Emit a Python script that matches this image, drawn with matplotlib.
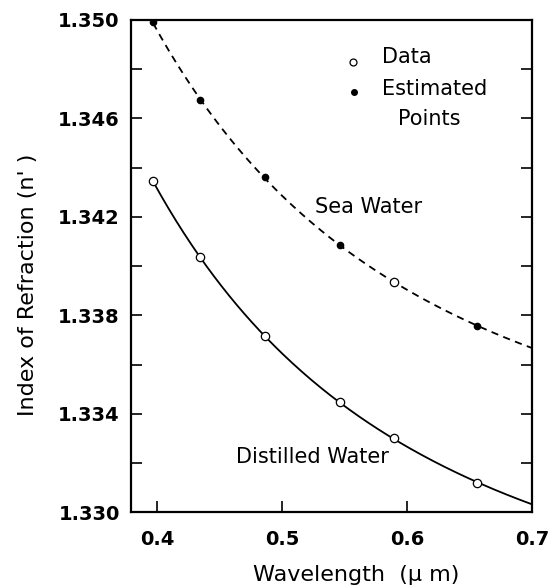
import numpy as np
import matplotlib
matplotlib.use("Agg")
import matplotlib.pyplot as plt

# wavelengths (um) and refractive index
wl_distilled = [0.3968, 0.4340, 0.4861, 0.5461, 0.5893, 0.6563]
n_distilled = [1.34345, 1.34037, 1.33715, 1.33447, 1.33300, 1.33119]

wl_sea_est = [0.3968, 0.4340, 0.4861, 0.5461, 0.6563]
n_sea_est = [1.34990, 1.34675, 1.34362, 1.34085, 1.33756]
wl_sea_data = [0.5893]
n_sea_data = [1.33936]

x_ticks = [0.4, 0.5, 0.6, 0.7]
y_ticks = [1.330, 1.334, 1.338, 1.342, 1.346, 1.350]


# Cauchy-type fit n = A + B/l^2 + C/l^4, used for the smooth curves
def cauchy_curve(wl, n, x_end=0.7):
    wl = np.asarray(wl)
    coef = np.polyfit(1.0 / wl**2, n, 2)
    xs = np.linspace(wl.min(), x_end, 200)
    return xs, np.polyval(coef, 1.0 / xs**2)


fig = plt.figure(figsize=(5.52, 5.88), dpi=100)
ax = fig.add_axes([0.237, 0.129, 0.727, 0.837])

xs, ys = cauchy_curve(wl_distilled, n_distilled)
ax.plot(xs, ys, color='black', linewidth=1.3)
ax.plot(wl_distilled, n_distilled, linestyle='none', marker='o', markersize=6,
        markerfacecolor='white', markeredgecolor='black', markeredgewidth=0.9)

wl_sea = wl_sea_est + wl_sea_data
n_sea = n_sea_est + n_sea_data
xs, ys = cauchy_curve(wl_sea, n_sea)
ax.plot(xs, ys, color='black', linewidth=1.3, linestyle=(0, (4, 3)))
ax.plot(wl_sea_est, n_sea_est, linestyle='none', marker='o', markersize=4.5,
        color='black')
ax.plot(wl_sea_data, n_sea_data, linestyle='none', marker='o', markersize=6,
        markerfacecolor='white', markeredgecolor='black', markeredgewidth=0.9)

ax.set_xlim(0.379, 0.7)
ax.set_ylim(1.330, 1.350)
ax.set_xticks(x_ticks)
ax.set_xticklabels([f"{v:.1f}" for v in x_ticks])
ax.set_yticks(y_ticks)
ax.set_yticklabels([f"{v:.3f}" for v in y_ticks])
ax.set_yticks(np.arange(1.332, 1.350, 0.004), minor=True)
ax.tick_params(axis='both', which='both', direction='in', length=8, width=1.2,
               labelsize=14)
ax.tick_params(axis='y', which='both', right=True, pad=8)
ax.tick_params(axis='x', pad=13)
for lab in ax.get_xticklabels() + ax.get_yticklabels():
    lab.set_fontweight('bold')
for sp in ax.spines.values():
    sp.set_linewidth(1.6)

ax.set_xlabel(u"Wavelength  (\u03bc m)", fontsize=16)
ax.set_ylabel("Index of Refraction (n' )", fontsize=16)
ax.xaxis.set_label_coords(0.561, -0.108)
ax.yaxis.set_label_coords(-0.232, 0.461)

ax.text(0.459, 0.608, "Sea Water", transform=ax.transAxes, fontsize=15,
        va='baseline', ha='left')
ax.text(0.262, 0.0996, "Distilled Water", transform=ax.transAxes, fontsize=15,
        va='baseline', ha='left')

# key in the upper right
ax.plot([0.554], [0.915], transform=ax.transAxes, linestyle='none', marker='o',
        markersize=5, markerfacecolor='white', markeredgecolor='black',
        markeredgewidth=0.9, clip_on=False)
ax.plot([0.556], [0.854], transform=ax.transAxes, linestyle='none', marker='o',
        markersize=4, color='black', clip_on=False)
ax.text(0.626, 0.913, "Data", transform=ax.transAxes, fontsize=15,
        va='baseline', ha='left')
ax.text(0.626, 0.848, "Estimated", transform=ax.transAxes, fontsize=15,
        va='baseline', ha='left')
ax.text(0.743, 0.787, "Points", transform=ax.transAxes, fontsize=15,
        va='baseline', ha='center')

fig.savefig("out.png", dpi=100)
